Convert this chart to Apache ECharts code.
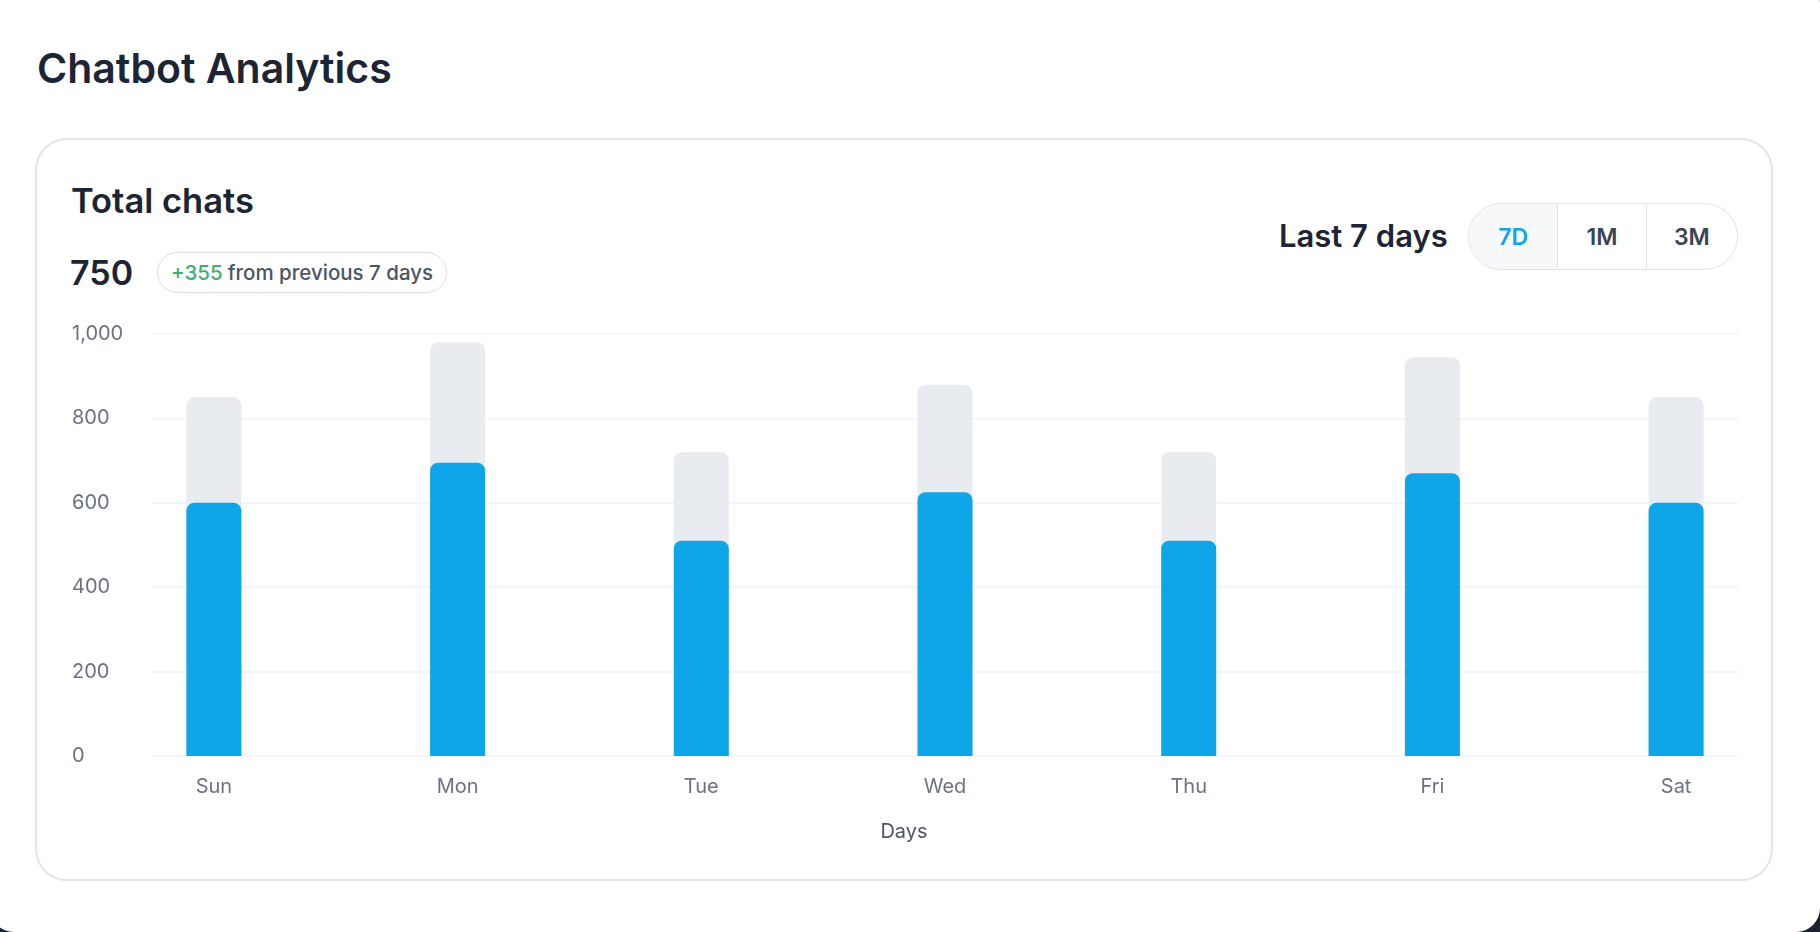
<!DOCTYPE html>
<html>
<head>
<meta charset="utf-8">
<title>Chatbot Analytics</title>
<script src="https://cdn.jsdelivr.net/npm/echarts@6/dist/echarts.min.js"></script>
<style>
  html, body { margin: 0; padding: 0; width: 1820px; height: 932px; overflow: hidden; background: #1b2232; font-family: Inter, "Noto Sans", sans-serif; }
  .panel { position: absolute; left: -10px; top: -20px; width: 1830px; height: 952px; background: #fff; border-radius: 24px; }
  .card { position: absolute; left: 35px; top: 138px; width: 1738px; height: 743px; box-sizing: border-box; border: 2px solid #e2e5ea; border-radius: 32px; }
  .txt { position: absolute; line-height: 1; white-space: nowrap; color: #1d2433; font-weight: 600; }
  .pill { position: absolute; left: 157px; top: 252px; height: 41px; box-sizing: border-box; border: 1.5px solid #dadee4; border-radius: 21px; padding: 0 13px; display: flex; align-items: center; font-size: 20.5px; font-weight: 500; color: #4b5563; white-space: nowrap; }
  .pill b { color: #3fae73; font-weight: 500; margin-right: 5px; }
  .seg { position: absolute; left: 1468px; top: 203px; width: 270px; height: 67px; box-sizing: border-box; border: 1.5px solid #dfe3e8; border-radius: 34px; overflow: hidden; display: flex; }
  .seg div { display: flex; align-items: center; justify-content: center; font-size: 23px; font-weight: 600; color: #3b4452; box-sizing: border-box; }
  .seg div + div { border-left: 1.5px solid #dfe3e8; }
  .seg .on { background: #f6f8fa; color: #0ea5e9; }
  #chart { position: absolute; left: 0; top: 0; width: 1820px; height: 932px; }
</style>
</head>
<body>
<div class="panel"></div>
<div class="txt" style="left:37px; top:48px; font-size:41px;">Chatbot Analytics</div>
<div class="card"></div>
<div class="txt" style="left:71px; top:184px; font-size:34.5px;">Total chats</div>
<div class="txt" style="left:70px; top:256px; font-size:34px;">750</div>
<div class="pill"><b>+355</b>from previous 7 days</div>
<div class="txt" style="left:1279px; top:220px; font-size:31px;">Last 7 days</div>
<div class="seg">
  <div class="on" style="width:89px;">7D</div>
  <div style="width:89px;">1M</div>
  <div style="width:92px;">3M</div>
</div>
<div id="chart"></div>
<script>
// 数据
var days = ['Sun', 'Mon', 'Tue', 'Wed', 'Thu', 'Fri', 'Sat'];
var totalValues = [850, 980, 720, 880, 720, 945, 850];
var chatValues = [600, 695, 510, 625, 510, 670, 600];
var dayTicks = [0, 1, 2, 3, 4, 5, 6];

function toPoints(values){
	var list = [];
	for(var i=0; i<values.length; i++){
		list.push([dayTicks[i], values[i]]);
	}
	return list;
}

var chart = echarts.init(document.getElementById('chart'), null, {renderer: 'canvas'});
var labelFont = 'Inter';
var option = {
	animation: false,
	grid: {
		left: 152,
		right: 82,
		top: 334,
		bottom: 176
	},
	xAxis: {
		type: 'value',
		min: -0.254,
		max: 6.254,
		splitLine: {show: false},
		axisLine: {show: false},
		axisTick: {show: false},
		axisLabel: {
			customValues: dayTicks,
			formatter: function(v){ return days[Math.round(v)]; },
			margin: 21,
			fontSize: 20,
			fontFamily: labelFont,
			color: '#6b7280'
		},
		name: 'Days',
		nameLocation: 'middle',
		nameGap: 66,
		nameTextStyle: {
			fontSize: 20,
			fontFamily: labelFont,
			color: '#4b5563',
			padding: [0, 82, 0, 0]
		}
	},
	yAxis: {
		type: 'value',
		min: 0,
		max: 1000,
		interval: 200,
		axisLine: {show: false},
		axisTick: {show: false},
		axisLabel: {
			formatter: function(v){ return v.toLocaleString('en-US'); },
			align: 'left',
			margin: 80,
			fontSize: 20,
			fontFamily: labelFont,
			color: '#6b7280'
		},
		splitLine: {
			lineStyle: {color: '#f0f2f5', width: 1.5}
		}
	},
	series: [
		{
			name: 'Total',
			type: 'bar',
			barWidth: 55,
			barGap: '-100%',
			silent: true,
			itemStyle: {color: '#e8ebf0', borderRadius: [8, 8, 0, 0]},
			data: toPoints(totalValues)
		},
		{
			name: 'Chats',
			type: 'bar',
			barWidth: 55,
			barGap: '-100%',
			itemStyle: {color: '#0ea5e9', borderRadius: [8, 8, 0, 0]},
			data: toPoints(chatValues)
		}
	]
};
chart.setOption(option);
window.addEventListener('resize', function(){
	chart.resize();
});
</script>
</body>
</html>
